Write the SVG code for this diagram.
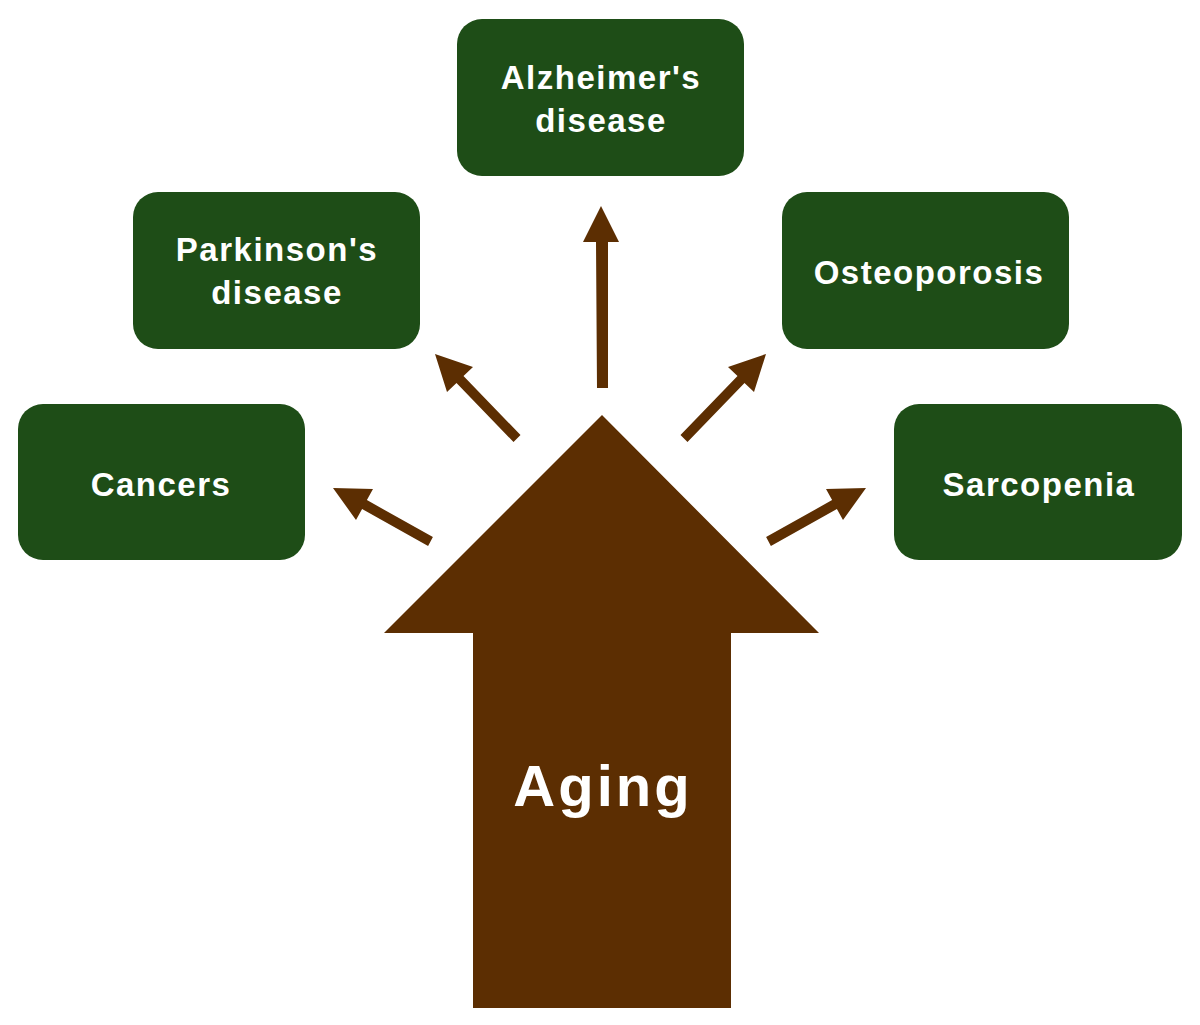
<svg xmlns="http://www.w3.org/2000/svg" width="1200" height="1025" viewBox="0 0 1200 1025">
<style>
.box{fill:#1e4d17;}
.lbl{font-family:"Liberation Sans",Arial,sans-serif;font-weight:bold;font-size:33px;fill:#ffffff;text-anchor:middle;letter-spacing:1.5px;}
.arr{fill:#5c2e02;}
.big{font-family:"Liberation Sans",Arial,sans-serif;font-weight:bold;font-size:58px;fill:#ffffff;text-anchor:middle;letter-spacing:3px;}
</style>
<rect width="1200" height="1025" fill="#ffffff"/>
<g id="aging">
<polygon class="arr" points="602,415 819,633 731,633 731,1008 473,1008 473,633 384,633"/>
<text class="big" x="603" y="806">Aging</text>
</g>
<g id="alzheimers">
<rect class="box" x="457" y="19" width="287" height="157" rx="25"/>
<text class="lbl" x="601" y="89">Alzheimer's</text>
<text class="lbl" x="601" y="132">disease</text>
</g>
<g id="parkinsons">
<rect class="box" x="133" y="192" width="287" height="157" rx="25"/>
<text class="lbl" x="277" y="261">Parkinson's</text>
<text class="lbl" x="277" y="304">disease</text>
</g>
<g id="osteoporosis">
<rect class="box" x="782" y="192" width="287" height="157" rx="25"/>
<text class="lbl" x="929" y="284">Osteoporosis</text>
</g>
<g id="cancers">
<rect class="box" x="18" y="404" width="287" height="156" rx="25"/>
<text class="lbl" x="161" y="496">Cancers</text>
</g>
<g id="sarcopenia">
<rect class="box" x="894" y="404" width="288" height="156" rx="25"/>
<text class="lbl" x="1039" y="496">Sarcopenia</text>
</g>
<g id="connectors">
<polygon class="arr" points="601,206 619,242 608,242 608,388 597,388 596,242 583,242"/>
<polygon class="arr" points="435,354 473,367 463.5,376 520.5,435 513.5,442 456.5,383 447,392"/>
<polygon class="arr" points="766,354 728,367 737.5,376 680.5,435 687.5,442 744.5,383 754,392"/>
<polygon class="arr" points="333,488 373,489 366.9,500.1 432.9,537.1 428.1,545.9 362.1,508.9 356,520"/>
<polygon class="arr" points="866,488 826,489 832.1,500.1 766.1,537.1 770.9,545.9 836.9,508.9 843,520"/>
</g>
</svg>
